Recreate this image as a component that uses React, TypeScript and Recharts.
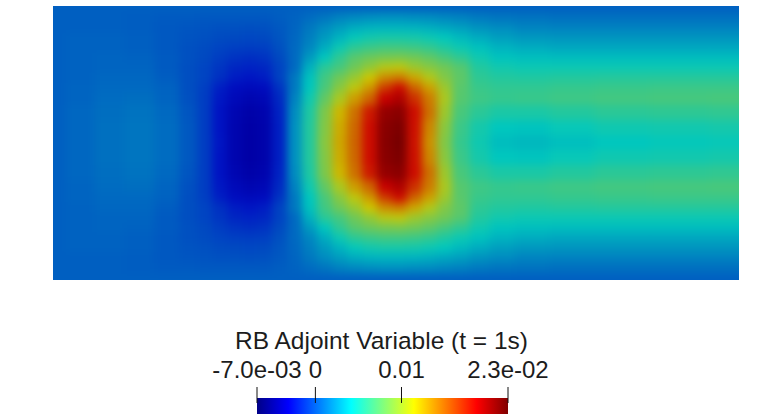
import React from "react";
import { ScatterChart, Scatter, XAxis, YAxis, ReferenceArea } from "recharts";

// Field sample positions: horizontal position and distance from the centre line
const columnX = [0, 27, 57, 87, 117, 137, 152, 167, 182, 197, 212, 227, 242, 257, 272, 287, 302, 317, 332, 347, 362, 377, 392, 407, 427, 447, 477, 517, 567, 627, 686];
const rowOffset = [0, 15, 30, 45, 55, 65, 75, 85, 95, 105, 115, 125, 136.5];

// Values in units of 1e-3, one list per distance from the centre line
const row00 = [0, 0.3, 0.7, 0.9, 0.5, -0.3, -1.4, -3, -5.8, -7, -6.3, -2.6, 2, 5.5, 9.2, 13, 15.5, 18.8, 22.3, 23, 18.6, 13.8, 9, 6.2, 4.8, 3.8, 3.6, 3.9, 4.2, 4.4, 4.5];
const row15 = [0, 0.3, 0.7, 0.9, 0.5, -0.3, -1.4, -3.1, -5.8, -6.9, -6.2, -2.6, 2, 5.5, 9, 12.8, 15.4, 18.8, 22.2, 22.8, 18.7, 14.2, 9.3, 6.4, 5, 4.2, 4.1, 4.5, 4.8, 4.9, 5];
const row30 = [0, 0.3, 0.6, 0.8, 0.4, -0.4, -1.4, -3.1, -5.4, -6.5, -5.9, -2.5, 1.8, 5.3, 8.8, 12.4, 15, 18.3, 21.7, 22.2, 18.8, 15, 10, 6.9, 5.8, 5.2, 5.2, 5.5, 5.8, 5.9, 6];
const row45 = [0, 0.2, 0.5, 0.6, 0.2, -0.6, -1.4, -2.9, -4.5, -5.5, -5, -2.2, 1.4, 4.8, 7.8, 10.5, 13.4, 15.5, 19.5, 20.6, 17.5, 14.6, 10.5, 7.4, 6.5, 6.2, 6.3, 6.5, 6.7, 6.8, 6.9];
const row55 = [0, 0.2, 0.4, 0.4, 0.1, -0.7, -1.3, -2.6, -3.8, -4.3, -3.9, -1.8, 1, 4.2, 6.9, 9.2, 11.2, 13.5, 17, 18.8, 15.5, 13.2, 10, 7.5, 6.3, 6, 6, 6.2, 6.3, 6.4, 6.4];
const row65 = [0, 0.1, 0.3, 0.3, -0.1, -0.7, -1.1, -1.9, -2.7, -3, -2.7, -1.2, 1, 4, 6.6, 8.3, 9.8, 11.8, 14, 14.6, 13, 10.8, 9, 7.7, 5.9, 5.5, 5.4, 5.5, 5.6, 5.6, 5.6];
const row75 = [0, 0.1, 0.2, 0.2, -0.2, -0.7, -1.1, -1.7, -2.3, -2.5, -2.3, -1.2, 0.4, 3.3, 5.8, 6.8, 8.3, 9.6, 10.9, 11.2, 10, 9.2, 8.4, 7.4, 5.5, 4.9, 4.7, 4.7, 4.7, 4.7, 4.7];
const row85 = [0, 0.1, 0.2, 0.1, -0.2, -0.6, -0.9, -1.4, -1.8, -2, -1.8, -0.9, 0.4, 2.4, 4.2, 6, 7.5, 8.2, 8.6, 8.7, 8.4, 7.8, 6.9, 6, 4.8, 4.1, 3.9, 3.8, 3.8, 3.8, 3.8];
const row95 = [0, 0.1, 0.1, 0, -0.3, -0.6, -0.8, -1.1, -1.3, -1.4, -1.3, -0.6, 0.4, 1.6, 3.1, 4.7, 5.9, 6.4, 6.7, 6.7, 6.5, 6.1, 5.4, 4.7, 4, 3.4, 3.1, 2.9, 2.9, 2.9, 2.9];
const row105 = [0, 0.1, 0.1, 0, -0.3, -0.5, -0.6, -0.8, -0.9, -1, -0.9, -0.4, 0.3, 1.3, 2.4, 3.4, 4.4, 4.9, 5.1, 5.1, 5, 4.7, 4.3, 3.7, 3.1, 2.6, 2.3, 2.2, 2.2, 2.2, 2.2];
const row115 = [0, 0, 0, -0.1, -0.3, -0.4, -0.5, -0.6, -0.6, -0.7, -0.6, -0.3, 0.2, 1, 1.8, 2.5, 3.1, 3.4, 3.5, 3.5, 3.4, 3.2, 2.9, 2.6, 2.1, 1.8, 1.5, 1.4, 1.4, 1.4, 1.4];
const row125 = [0, 0, 0, -0.1, -0.2, -0.2, -0.3, -0.3, -0.3, -0.3, -0.3, -0.1, 0.1, 0.5, 0.9, 1.4, 1.7, 1.9, 2, 2, 1.9, 1.8, 1.6, 1.4, 1.1, 0.9, 0.8, 0.7, 0.7, 0.7, 0.7];
const rowEdge = [0, 0, 0, 0, 0, 0, 0, 0, 0, 0, 0, 0, 0, 0, 0, 0, 0, 0, 0, 0, 0, 0, 0, 0, 0, 0, 0, 0, 0, 0, 0];
const halfRows = [row00, row15, row30, row45, row55, row65, row75, row85, row95, row105, row115, row125, rowEdge];

// Colour bar
const barMin = -0.00678;
const barMax = 0.02237;
const barTicks = [barMin, 0, 0.01, barMax];
const barTickLabels = ["-7.0e-03", "0", "0.01", "2.3e-02"];
const barTitle = "RB Adjoint Variable (t = 1s)";
const colorMin = -7;
const colorMax = 23;
const jetStops: [number, number[]][] = [
  [0, [0, 0, 135]],
  [0.125, [0, 0, 255]],
  [0.375, [0, 255, 255]],
  [0.625, [255, 255, 0]],
  [0.875, [255, 0, 0]],
  [1, [128, 0, 0]],
];
// The same map as it appears on the lit surface
const fieldStops: [number, number[]][] = [
  [0, [0, 0, 165]],
  [0.125, [0, 15, 195]],
  [0.375, [0, 200, 190]],
  [0.625, [205, 200, 0]],
  [0.875, [205, 0, 0]],
  [1, [120, 0, 0]],
];

function colorFor(v: number) {
  const t = Math.min(1, Math.max(0, (v - colorMin) / (colorMax - colorMin)));
  for (let i = 1; i < fieldStops.length; i++) {
    if (t <= fieldStops[i][0]) {
      const [t0, c0] = fieldStops[i - 1];
      const [t1, c1] = fieldStops[i];
      const f = (t - t0) / (t1 - t0);
      const c = c0.map((a, j) => Math.round(a + (c1[j] - a) * f));
      return `rgb(${c.join(",")})`;
    }
  }
  return "rgb(0,0,0)";
}

const signedRows = [
  ...rowOffset.map((d, i) => ({ d: -d, r: i })).reverse(),
  ...rowOffset.map((d, i) => ({ d, r: i })).slice(1),
];
const cells = signedRows.flatMap(({ d, r }, ri) =>
  columnX.map((x, c) => ({ x, y: d, v: halfRows[r][c], c, ri }))
);
const barPoints = barTicks.map((x) => ({ x, y: 0.5 }));

function edges(list: number[], i: number) {
  const lo = i === 0 ? list[0] - 30 : (list[i - 1] + list[i]) / 2;
  const hi = i === list.length - 1 ? list[i] + 30 : (list[i] + list[i + 1]) / 2;
  return [lo, hi];
}
const signedY = signedRows.map((s) => s.d);

function Cell(props: any) {
  const { cx, cy, payload } = props;
  const [x0, x1] = edges(columnX, payload.c);
  const [y0, y1] = edges(signedY, payload.ri);
  return (
    <rect
      x={cx - (payload.x - x0) - 0.5}
      y={cy - (payload.y - y0) - 0.5}
      width={x1 - x0 + 1}
      height={y1 - y0 + 1}
      fill={colorFor(payload.v)}
    />
  );
}

function BarTick(props: any) {
  const { x, y, index } = props;
  return (
    <g>
      <line x1={x} x2={x} y1={y + 5} y2={y - 11} stroke="#111" strokeWidth={1} />
      <text x={x} y={y - 20} textAnchor="middle" fontFamily="Liberation Sans" fontSize={24} fill="#1c1c1c">
        {barTickLabels[index]}
      </text>
    </g>
  );
}

export default function App() {
  return (
    <div style={{ position: "absolute", left: 0, top: 0, width: 762, height: 417, background: "#fff", overflow: "hidden" }}>
      <style>{`.field .recharts-scatter{filter:blur(4.5px);clip-path:url(#fieldClip);}`}</style>
      <div className="field" style={{ position: "absolute", left: 0, top: 0 }}>
        <ScatterChart width={762} height={320} margin={{ top: 6, right: 23, bottom: 40, left: 53 }}>
          <defs>
            <clipPath id="fieldClip">
              <rect x={53} y={6} width={686} height={274} />
            </clipPath>
          </defs>
          <XAxis type="number" dataKey="x" domain={[0, 686]} hide />
          <YAxis type="number" dataKey="y" domain={[-137, 137]} hide reversed />
          <Scatter data={cells} shape={Cell} isAnimationActive={false} />
        </ScatterChart>
      </div>
      <div style={{ position: "absolute", left: 0, top: 320 }}>
        <ScatterChart width={762} height={97} margin={{ top: 48, right: 254, bottom: 3, left: 257 }}>
          <defs>
            <linearGradient id="jetBar" x1="0" x2="1" y1="0" y2="0">
              {jetStops.map(([t, c]) => (
                <stop key={t} offset={t} stopColor={`rgb(${c.join(",")})`} />
              ))}
            </linearGradient>
          </defs>
          <XAxis
            type="number"
            dataKey="x"
            orientation="top"
            domain={[barMin, barMax]}
            ticks={barTicks}
            interval={0}
            height={30}
            axisLine={false}
            tickLine={false}
            tickSize={0}
            tickMargin={0}
            tick={BarTick}
          />
          <YAxis type="number" dataKey="y" domain={[0, 1]} hide />
          <ReferenceArea x1={barMin} x2={barMax} y1={0} y2={1} fill="url(#jetBar)" fillOpacity={1} stroke="none" />
          <Scatter data={barPoints} shape={() => <g />} isAnimationActive={false} />
          <text x={381.5} y={29} textAnchor="middle" fontFamily="Liberation Sans" fontSize={24.5} fill="#1c1c1c">
            {barTitle}
          </text>
        </ScatterChart>
      </div>
    </div>
  );
}
